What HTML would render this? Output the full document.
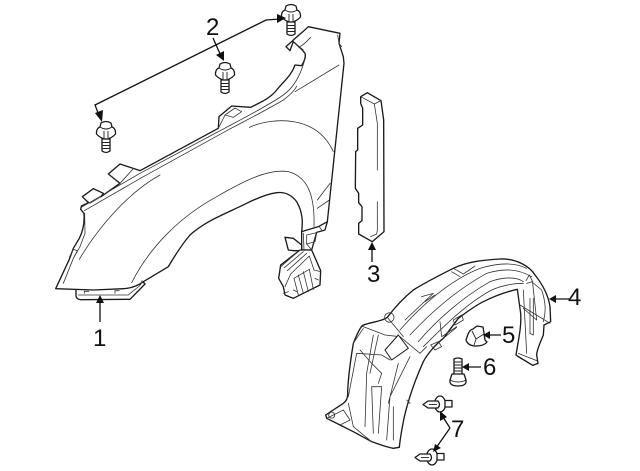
<!DOCTYPE html>
<html><head><meta charset="utf-8"><style>
html,body{margin:0;padding:0;background:#fff;width:640px;height:471px;overflow:hidden}
svg{display:block}
text{font-family:"Liberation Sans",sans-serif;font-size:24px;fill:#111}
.a{fill:#fff;stroke:#1a1a1a;stroke-width:4;stroke-linejoin:round;stroke-linecap:round}
.t{fill:none;stroke:#333;stroke-width:2.4;stroke-linejoin:round;stroke-linecap:round}
.p{fill:#fff;stroke:#1a1a1a;stroke-width:1.3;stroke-linejoin:round}
.l{fill:none;stroke:#111;stroke-width:1.3}
.s{fill:none;stroke:#222;stroke-width:.9}
</style></head><body>
<svg width="640" height="471" viewBox="0 0 640 471" xmlns="http://www.w3.org/2000/svg">

<!-- fender -->
<g transform="translate(40,0) scale(.33333)">
<path class="a" d="M108 866V888Q110 898 122 899L270 898L315 852L306 842Z"/>
<path class="a" d="M47 866L88 778L100 745L118 715C128 695 134 670 132 640L122 628L124 618L145 608L127 590L160 566L190 580L183 590L240 550L205 522L240 492L282 506L300 512L535 385L537 350L575 318L632 322C665 305 690 295 710 270C735 240 755 225 765 195L785 197C795 180 798 170 795 160L785 148L760 125L750 152L738 140L755 125C770 110 790 95 805 80L900 100L897 130L910 170L912 190L862 665L850 690L810 702L785 695C788 670 790 640 770 605C755 585 735 575 710 578C680 582 650 595 620 610C560 640 500 660 450 705C420 740 400 775 385 800L310 845C290 860 270 865 250 866L160 870Z"/>
<path class="t" d="M124 622L300 520L535 395C600 360 680 320 730 285C765 260 785 220 797 168"/>
<path class="t" d="M133 632L310 530L560 392C620 360 680 330 730 300C750 285 765 270 770 258"/>
<path class="t" d="M150 610L183 590M150 610L127 590M240 550L205 522M240 550L280 506M555 345L580 352L605 335L585 324ZM535 385L555 345M765 275L897 195M760 125L790 150M812 112C800 125 790 135 780 140M893 105L897 130L905 140"/>
<path class="t" d="M628 382C700 350 830 345 880 455"/>
<path class="t" d="M118 778C170 690 260 580 360 525"/>
<path class="t" d="M275 848C330 740 420 650 530 590C600 550 680 505 745 515C800 530 825 580 822 680"/>
<path class="t" d="M832 600L870 550M832 625L868 600M88 772L100 748L112 752L100 775M70 850L100 775L120 740L135 700L134 640"/>
<path class="t" d="M133 880V874H146M225 880V872H238M115 885H265L298 858C305 850 305 848 306 842"/>
<path class="a" d="M785 695L835 680L862 665L855 690L830 697L815 750L785 750Z"/>
<path class="t" d="M800 705L830 698L825 725L800 732ZM800 732L815 750M790 700L792 750M838 680L845 690"/>
<path class="a" d="M735 712L760 715L785 735V752L760 752L745 750Z"/>
<path class="a" d="M780 750H815L842 812L840 855L790 880L760 895L735 885L730 860L716 835L722 795Z"/>
<path class="t" d="M722 800L780 750M733 803L790 755M742 812L800 760M752 822L808 768M752 822L735 860M808 768L822 810L842 815M762 835L808 808M762 835L775 885M775 825L790 880M790 815L805 875M808 808L820 868M730 880L745 875M760 870L770 875M825 835L835 840"/>
</g>

<!-- bolts 2 -->
<g id="b1" transform="translate(291,13)">
<path class="p" d="M-4 9H4V21Q0 24 -4 21Z"/>
<path class="s" d="M-4 12.5H4M-4 15.5H4M-4 18.5H4"/>
<path class="p" d="M-9.5 2Q-9 -2 -6 -3L-5 -7Q0 -10 5 -7L6 -3Q9 -2 9.5 2V4Q5 9 0 9Q-5 9 -9.5 4Z"/>
<path class="s" d="M-6 -3Q0 1 6 -3M-2 1V8M2 1V8"/>
</g>
<use href="#b1" transform="translate(-66,58)"/>
<use href="#b1" transform="translate(-185,117)"/>
<path class="l" d="M280 19L266 20L95 105L100 118"/>
<path d="M286 18L277 14V23ZM102 122L95 113L103 110Z" fill="#111"/>
<path class="l" d="M213 38L221 56"/><path d="M224 61L216 55L224 51Z" fill="#111"/>

<!-- part 3 -->
<g transform="translate(340,80) scale(.33333)">
<path class="a" d="M62 50L82 38L123 62L131 120L132 455L97 485L56 462L56 430L66 422L66 380L56 368L56 340L46 325L47 215L53 210L53 145L68 135L68 85L62 70Z"/>
<path class="t" d="M62 50L103 72L123 62M103 72L112 130V270M112 365V450M92 470L110 462L112 450"/>
</g>

<!-- liner -->
<g transform="translate(310,240) scale(.33333)">
<path class="a" d="M47 525L100 490Q115 480 113 455C115 400 125 340 130 310C140 285 150 262 158 256C185 245 215 245 232 232C260 195 285 170 310 150C350 125 390 105 430 85C470 65 520 60 570 57C620 55 660 80 675 105C695 130 715 165 720 200L722 245L702 255L700 285C690 310 680 330 680 345L684 370L668 376L622 348L618 345C625 300 635 260 632 220L622 148C590 155 560 165 520 185C490 200 465 220 445 235L400 295C375 315 350 345 340 365C315 420 295 480 283 530C275 570 270 600 268 622L250 625C225 620 205 612 185 605L130 575L90 555L50 535Z"/>
<path class="t" d="M270 270C330 200 420 120 510 85C560 70 610 65 650 85"/>
<path class="t" d="M300 285C360 220 440 150 530 100C580 85 620 85 665 110"/>
<path class="t" d="M325 305C380 240 460 170 540 125C580 110 620 110 640 125"/>
<path class="t" d="M340 320C400 260 470 190 545 150C580 135 610 130 640 130"/>
<path class="t" d="M155 258L225 285L270 290L330 340L350 320M232 232L280 290"/>
<path class="a" style="stroke-width:3" d="M225 330L265 285L295 325L245 360Z"/>
<path class="t" d="M430 85L460 102L495 78M425 95L450 110M335 170L370 160L285 240M345 185L375 165"/>
<path class="t" d="M362 315L385 305L395 320L375 330L362 315M430 240L455 225L460 240L435 255ZM390 245L395 290L440 260M400 295L440 262"/>
<path class="t" d="M130 310L160 265M150 330L185 370L215 400L205 430M190 285L170 400L165 560M205 285L180 400M115 470L140 340L215 345M215 345L240 360M185 440L215 440L205 580M185 440L190 580M115 490L130 560L185 605M235 490L265 370M230 600L240 470L300 350M250 600V500M290 480L300 490"/>
<path class="t" d="M74 525A9 9 0 1 0 74 526M50 535L100 510L120 540L90 555"/>
<path class="t" d="M252 232A14 14 0 1 0 252 233M648 122L658 105L668 125L650 130M665 125L695 150C705 180 710 210 700 245M668 130L680 240L640 205M640 150L650 340M660 175V280L670 285V175M630 195L720 250"/>
<path class="t" d="M625 340L680 362"/>
</g>

<!-- part 5 -->
<path class="p" d="M466 340C468 334 469 330 473 329L477 326L483 327L484 333L485 340L487 342Q484 346 476 346Q468 346 466 340Z"/>
<path class="s" d="M472 331L476 339L484 334M476 339L474 345"/>

<!-- part 6 -->
<path class="p" d="M454 359Q458 357 462 359V376H454Z"/>
<path class="s" d="M454 362H462M454 365H462M454 368H462M454 371H462"/>
<path class="p" d="M452 374H464L466 380Q467 386 458 386Q449 386 450 380Z"/>
<path class="s" d="M450 380Q458 384 466 380"/>

<!-- clips 7 -->
<g id="c1">
<ellipse class="p" cx="440" cy="404" rx="5.5" ry="8"/>
<path class="p" d="M445 400.5H452V407H445Z"/>
<path class="p" d="M423 404.5L428 401H438Q441 404.5 438 408H428Z"/>
<path class="s" d="M429 404.5H437"/>
</g>
<use href="#c1" transform="translate(-8,53)"/>

<!-- leader lines -->
<path class="l" d="M100 322V301M372 262V248M569 299H553M501 335H487M481 367H466M450 428L441 414M450 428L436 448"/>
<path fill="#111" d="M100 295L96 303H104ZM372 242L368 250H376ZM549 299L556 295V303ZM483 335L490 331V339ZM462 367L469 363V371ZM440 411L447 417L440 421ZM433 452L435 444L441 448Z"/>

<text x="206" y="35">2</text>
<text x="93" y="346">1</text>
<text x="367" y="282">3</text>
<text x="568" y="305">4</text>
<text x="502" y="343">5</text>
<text x="483" y="375">6</text>
<text x="451" y="437">7</text>
</svg>
</body></html>
